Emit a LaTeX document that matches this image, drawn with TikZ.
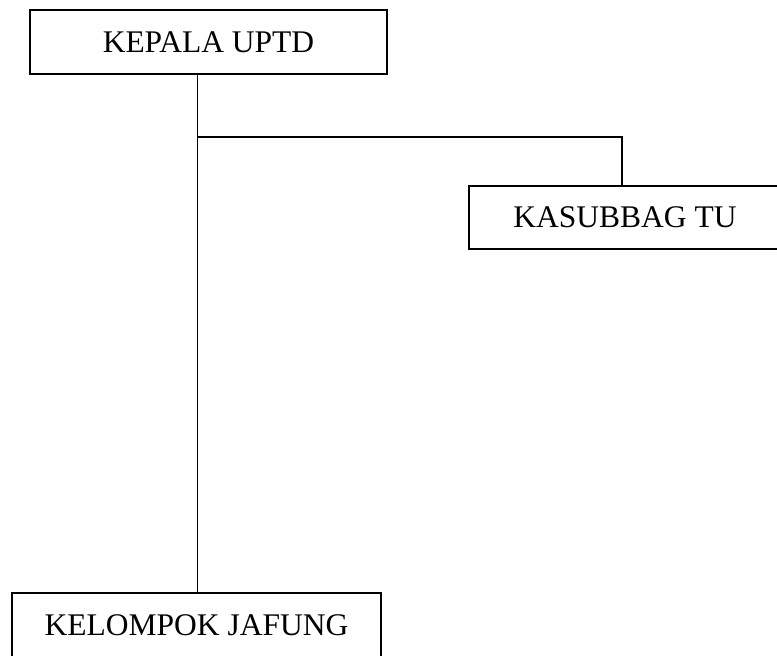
\documentclass[tikz,border=0pt]{standalone}
\usepackage{fontspec}
\setmainfont{Liberation Serif}
\begin{document}
\begin{tikzpicture}[x=1pt,y=-1pt,
  orgbox/.style={draw, line width=1.3pt, minimum height=64pt, inner sep=0pt, font=\fontsize{31.5}{36}\selectfont},
  conn/.style={line width=1.3pt}]
\useasboundingbox (0,0) rectangle (777,656);
\clip (0,0) rectangle (777,656);
\node[orgbox, minimum width=318pt, minimum height=63pt] (kas) at (628,217.5) {\hspace*{-6pt}KASUBBAG TU};
\node[orgbox, minimum width=357pt] (kep) at (208.5,42) {KEPALA UPTD};
\node[orgbox, minimum width=369pt] (kel) at (196.5,625) {KELOMPOK JAFUNG};
\coordinate (j) at (197.5,137);
\coordinate (j2) at (622,137);
\draw[conn] (kep.south -| j) -- (kel.north -| j);
\draw[conn] (j) -- (j2) -- (kas.north -| j2);
\end{tikzpicture}
\end{document}
